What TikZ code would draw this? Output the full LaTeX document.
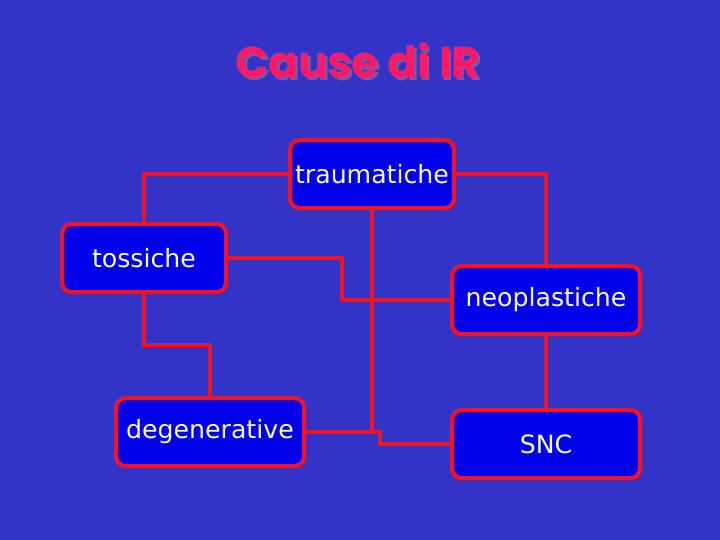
\documentclass[tikz,border=0pt]{standalone}
\usepackage{fontspec}
\setmainfont{DejaVu Sans}
\newfontfamily\titlefont{Poppins}
\usetikzlibrary{positioning, calc}

\definecolor{bgblue}{RGB}{51,51,200}
\definecolor{boxblue}{RGB}{0,0,235}
\definecolor{linered}{RGB}{235,20,40}
\definecolor{titlepink}{RGB}{255,25,100}
\definecolor{titleshade}{RGB}{120,85,175}

% title text with its own drop shadow
\newcommand{\shadedtitle}[1]{%
  \makebox[0pt][l]{\hspace{2.5pt}\raisebox{-2.5pt}{\color{titleshade}#1}}{\color{titlepink}#1}}

\begin{document}
\begin{tikzpicture}[
    x=0.03cm, y=-0.03cm,
    font=\fontsize{21.5}{25}\selectfont,
    every node/.style={align=center},
    box/.style={draw=linered, line width=3.6pt, fill=boxblue, rounded corners=8pt, text=white, inner sep=0pt, minimum height=2.04cm},
    shortbox/.style={box, minimum width=4.92cm},
    longbox/.style={box, minimum width=5.64cm},
    link/.style={draw=linered, line width=3pt},
    heading/.style={font=\titlefont\bfseries\fontsize{37}{42}\selectfont}
]

% background
\fill[bgblue] (0,0) rectangle (720,540);

% =========================================================
% Title
% =========================================================
\node[heading] (title) at (358,62) {\shadedtitle{Cause di IR}};

% =========================================================
% Boxes
% =========================================================
\node[shortbox] (trauma)   at (372,174) {traumatiche};
\node[shortbox] (tossiche) at (144,258) {tossiche};
\node[longbox]  (neo)      at (546,300) {neoplastiche};
\node[longbox]  (degen)    at (210,432) {degenerative};
\node[longbox]  (snc)      at (546,444) {SNC};

% =========================================================
% Connectors
% =========================================================
\draw[link] (trauma.west) -| (tossiche.north);
\draw[link] (trauma.east) -| (neo.north);
\draw[link] (tossiche.east) -- ++(114,0) |- (neo.west);
\draw[link] (tossiche.south) -- ++(0,51) -| (degen.north);
\draw[link] (neo.south) -- (snc.north);
\draw[link] (trauma.south) -- (trauma.south |- degen.east);
\draw[link] (degen.east) -- ++(74,0) |- (snc.west);

\end{tikzpicture}
\end{document}
